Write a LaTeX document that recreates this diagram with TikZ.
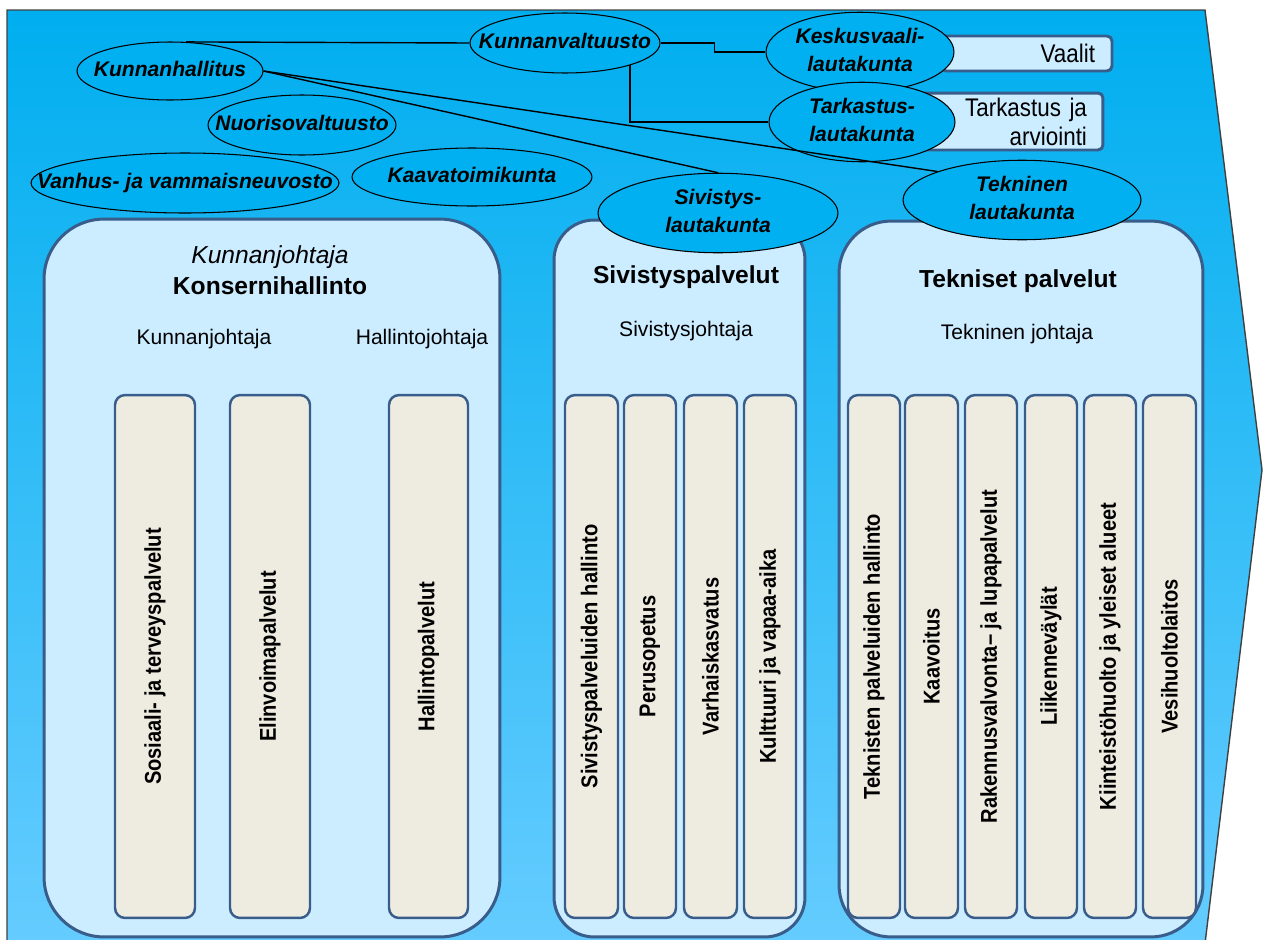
\documentclass[tikz,border=0pt]{standalone}
\usepackage{fontspec}
\setmainfont{Liberation Sans}
\newfontfamily\kapea[FakeStretch=0.88]{Liberation Sans}
\usetikzlibrary{shapes.geometric}

\definecolor{tausta1}{HTML}{00AEEF}
\definecolor{tausta2}{HTML}{66CCFF}
\definecolor{soikio}{HTML}{00B0F0}
\definecolor{vaalea}{HTML}{CCECFF}
\definecolor{reuna}{HTML}{385D8A}
\definecolor{beige}{HTML}{EEECE1}

\newcommand{\soikioteksti}[1]{\makebox[0pt]{\begin{tabular}{@{}c@{}}#1\end{tabular}}}

\tikzset{
  lauta/.style={ellipse, draw=black, line width=0.6pt, fill=soikio, inner sep=0pt,
    font=\fontsize{12}{16}\selectfont\bfseries\itshape},
  paneeli/.style={draw=reuna, line width=1.7pt, fill=vaalea},
  sarake/.style={draw=reuna, line width=1.4pt, fill=beige, rounded corners=0.2cm, rotate=90,
    inner sep=0pt, font=\kapea\fontsize{13}{15}\selectfont\bfseries},
  laatikko/.style={draw=reuna, line width=1.7pt, fill=vaalea, rounded corners=0.1cm, inner sep=0pt,
    font=\kapea\fontsize{14.5}{16.5}\selectfont, align=right},
  otsikko/.style={font=\fontsize{14}{17}\selectfont\bfseries},
  johtaja/.style={font=\fontsize{12}{14}\selectfont},
  yhteys/.style={draw=black, line width=0.8pt}
}

\begin{document}
\begin{tikzpicture}[x=0.02cm, y=-0.02cm]
            \useasboundingbox (0,0) rectangle (1265,940);
            % tausta
            \draw[draw=black!75, line width=0.8pt, top color=tausta1, bottom color=tausta2]
                (7,10) -- (1205,10) -- (1262,470) -- (1204,952) -- (7,952) -- cycle;
            % paneelit
            \node[paneeli, rounded corners=1.2cm, minimum width=9.12cm, minimum height=14.36cm] (konserni) at (272,578) {};
            \node[paneeli, rounded corners=0.8cm, minimum width=5.02cm, minimum height=14.34cm] (sivistys) at (679.5,578.5) {};
            \node[paneeli, rounded corners=1.04cm, minimum width=7.28cm, minimum height=14.32cm] (tekniset) at (1021,579) {};
            \node[font=\fontsize{14}{17}\selectfont\itshape] (kj) at (270,257) {Kunnanjohtaja};
            \node[otsikko] (konsernit) at (270,286) {Konsernihallinto};
            \node[johtaja] (kunnanj) at (204,339) {Kunnanjohtaja};
            \node[johtaja] (hallintoj) at (422,339) {Hallintojohtaja};
            \node[otsikko] (sivistyst) at (686,277) {Sivistyspalvelut};
            \node[johtaja] (sivistysj) at (686,331) {Sivistysjohtaja};
            \node[otsikko] (teknisett) at (1018,281) {Tekniset palvelut};
            \node[johtaja] (teknj) at (1017,334) {Tekninen johtaja};
            % sarakkeet
            \foreach \x/\lev/\nimi/\teksti in {155/1.6cm/sos/{Sosiaali- ja terveyspalvelut},
                270/1.6cm/elin/Elinvoimapalvelut, 428.5/1.58cm/hall/Hallintopalvelut,
                591.5/1.06cm/sivh/{Sivistyspalveluiden hallinto}, 650/1.04cm/perus/Perusopetus,
                710.5/1.06cm/varh/Varhaiskasvatus, 770/1.04cm/kult/{Kulttuuri ja vapaa-aika},
                874/1.04cm/tekh/{Teknisten palveluiden hallinto}, 931.5/1.06cm/kaavoitus/Kaavoitus,
                991/1.04cm/rak/{Rakennusvalvonta– ja lupapalvelut}, 1051/1.04cm/liik/Liikenneväylät,
                1110/1.04cm/kiint/{Kiinteistöhuolto ja yleiset alueet}, 1169.5/1.06cm/vesi/Vesihuoltolaitos}
                \node[sarake, minimum width=10.46cm, minimum height=\lev] (\nimi) at (\x,656.5) {\teksti};
            % laatikot
            \node[laatikko, text width=2.74cm, inner xsep=0.34cm, minimum height=0.7cm] (vaalit) at (1026.5,53.5) {Vaalit};
            \node[laatikko, text width=3.02cm, inner xsep=0.32cm, minimum height=1.14cm] (arviointi) at (1011.5,121.5) {Tarkastus ja\\arviointi};
            % toimielimet
            \node[lauta, minimum width=3.8cm, minimum height=1.2cm] (kv) at (565,43) {\soikioteksti{Kunnanvaltuusto}};
            \node[lauta, minimum width=3.72cm, minimum height=1.16cm] (kh) at (170,71) {\soikioteksti{Kunnanhallitus}};
            \node[lauta, minimum width=3.76cm, minimum height=1.2cm] (nuva) at (302,125) {\soikioteksti{Nuorisovaltuusto}};
            \node[lauta, minimum width=6.16cm, minimum height=1.2cm] (vammais) at (185,183) {\soikioteksti{Vanhus- ja vammaisneuvosto}};
            \node[lauta, minimum width=4.8cm, minimum height=1.16cm] (kaava) at (472,177) {\soikioteksti{Kaavatoimikunta}};
            \node[lauta, minimum width=3.76cm, minimum height=1.2cm] (kesk) at (860,52) {\soikioteksti{Keskusvaali-\\lautakunta}};
            \node[lauta, minimum width=3.72cm, minimum height=1.2cm] (tark) at (862,122) {\soikioteksti{Tarkastus-\\lautakunta}};
            \node[lauta, minimum width=4.8cm, minimum height=1.2cm] (sivl) at (718,213) {\soikioteksti{Sivistys-\\lautakunta}};
            \node[lauta, minimum width=4.76cm, minimum height=1.2cm] (tekl) at (1022,200) {\soikioteksti{Tekninen\\lautakunta}};
            % yhteydet
            \draw[yhteys] (kv.west) -- (kh.61);
            \draw[yhteys] (kv.east) -- ++(54,0) |- (kesk.west);
            \draw[yhteys] (kv.-19) |- (tark.west);
            \draw[yhteys] (kh.east) -- (sivl.north);
            \draw[yhteys] (kh.east) -- (tekl.north west);
        \end{tikzpicture}
\end{document}
